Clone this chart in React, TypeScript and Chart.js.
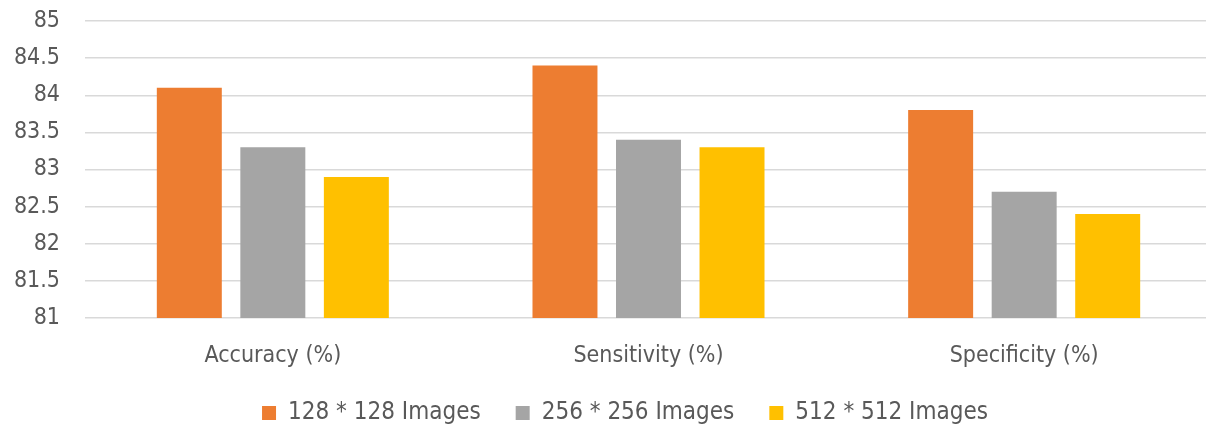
import React, { useEffect, useRef } from "react";
import { Chart, registerables } from "chart.js";

Chart.register(...registerables);

const categories = ["Accuracy (%)", "Sensitivity (%)", "Specificity (%)"];
const seriesLabels = ["128 * 128 Images", "256 * 256 Images", "512 * 512 Images"];
const series128 = [84.1, 84.4, 83.8];
const series256 = [83.3, 83.4, 82.7];
const series512 = [82.9, 83.3, 82.4];
const colors = ["#ED7D31", "#A5A5A5", "#FFC000"];
const yMin = 81;
const yMax = 85;
const yStep = 0.5;

const FONT = "'DejaVu Sans Condensed', 'Liberation Sans Narrow', 'Noto Sans', sans-serif";

const EXTEND_RIGHT = 6;

const adjustLayout = {
  id: "adjustLayout",
  afterLayout(chart: any) {
    const l = chart.legend;
    if (l) {
      l.top += 7;
      l.bottom += 7;
      l.left += 22;
      l.right += 22;
    }
    const x = chart.scales.x;
    if (x) {
      x.bottom += 30;
      x.right += EXTEND_RIGHT;
      x.width += EXTEND_RIGHT;
      x.configure();
    }
    const y = chart.scales.y;
    if (y) y.configure();
    chart.chartArea.right += EXTEND_RIGHT;
    chart.chartArea.width += EXTEND_RIGHT;
  },
};

export default function App() {
  const ref = useRef<HTMLCanvasElement>(null);
  useEffect(() => {
    document.body.style.margin = "0";
    const values = [series128, series256, series512];
    const chart = new Chart(ref.current!, {
      type: "bar",
      data: {
        labels: categories,
        datasets: seriesLabels.map((l, i) => ({
          label: l,
          data: values[i],
          backgroundColor: colors[i],
          borderWidth: 0,
          categoryPercentage: 0.667,
          barPercentage: 0.778,
        })),
      },
      plugins: [adjustLayout],
      options: {
        animation: false,
        responsive: false,
        maintainAspectRatio: false,
        layout: { padding: { left: 0, right: 0, top: 21, bottom: 0 } },
        plugins: {
          tooltip: { enabled: false },
          legend: {
            position: "bottom",
            labels: {
              color: "#595959",
              font: { family: FONT, size: 24 },
              boxWidth: 14,
              boxHeight: 14,
              padding: 35,
            },
          },
        },
        scales: {
          x: {
            grid: { display: false },
            border: { display: false },
            ticks: { color: "#595959", font: { family: FONT, size: 23 }, padding: 16 },
            afterFit: (s: any) => {
              s.height = 41;
              s.paddingLeft = 0;
              s.paddingRight = 0;
            },
          },
          y: {
            min: yMin,
            max: yMax,
            grid: { color: "#D9D9D9", lineWidth: 1.5, drawTicks: false },
            border: { display: false },
            ticks: {
              stepSize: yStep,
              color: "#595959",
              font: { family: FONT, size: 23 },
              padding: 25,
              callback: (v: any) => String(v),
            },
            afterFit: (s: any) => {
              s.width = 85;
              s.paddingTop = 0;
              s.paddingBottom = 0;
            },
          },
        },
      },
    });
    return () => chart.destroy();
  }, []);
  return <canvas ref={ref} width={1206} height={428} style={{ display: "block" }} />;
}
